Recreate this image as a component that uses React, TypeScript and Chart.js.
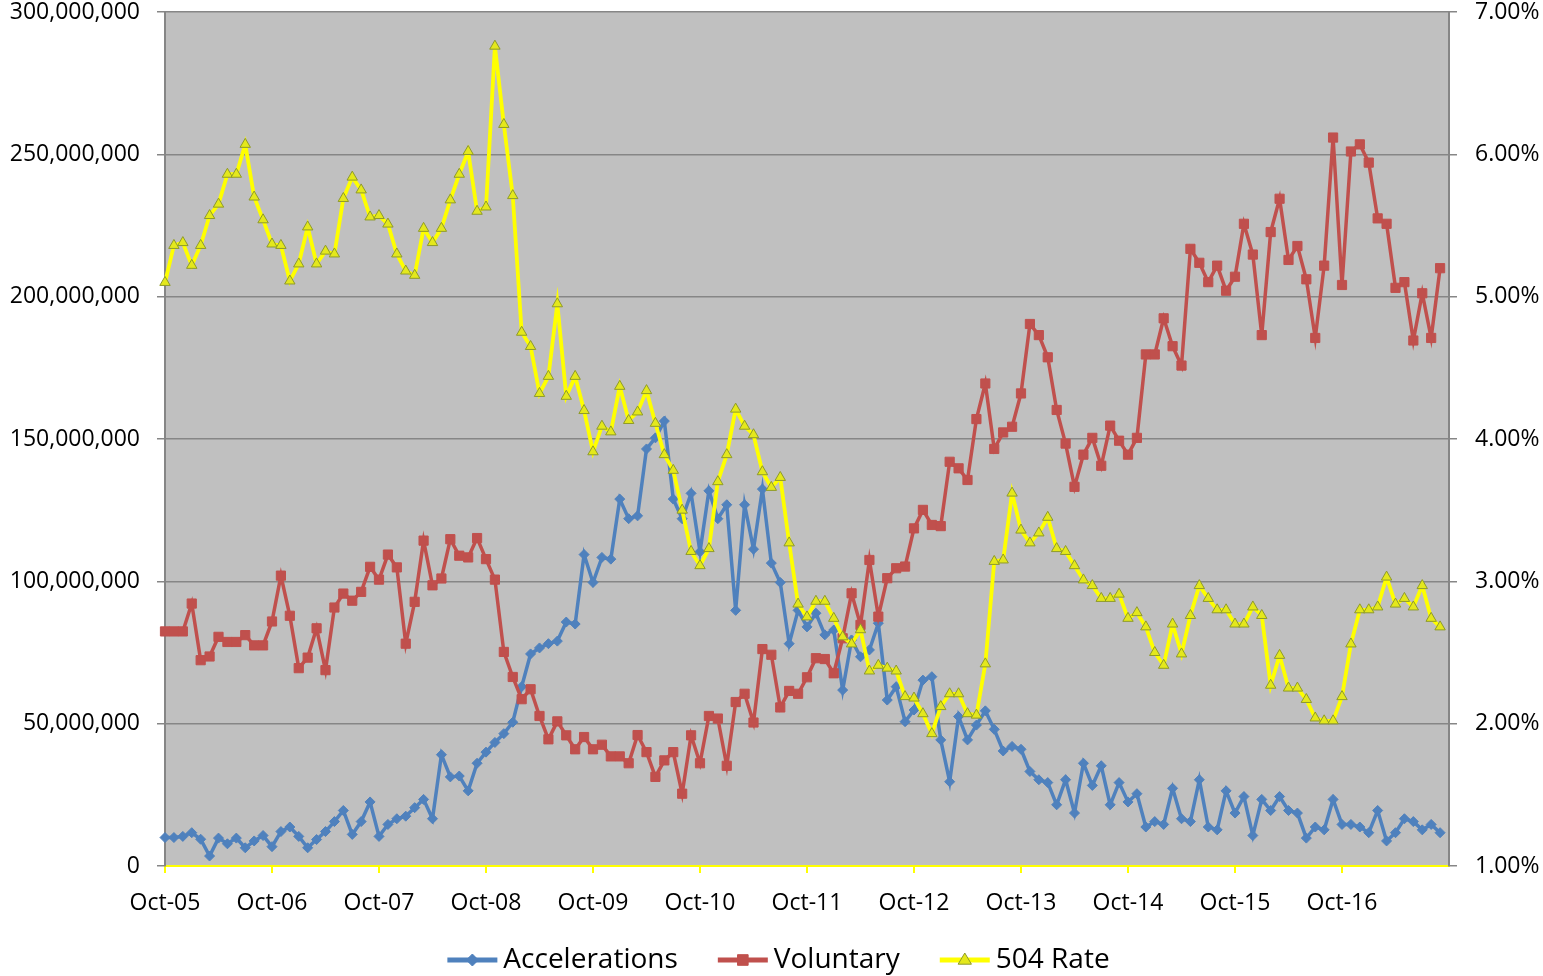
import React, { useEffect, useRef } from 'react';
import { Chart, registerables } from 'chart.js';

Chart.register(...registerables);

const FONT = "'Open Sans', 'Noto Sans', sans-serif";

// Monthly series, Oct-05 .. Sep-17 (144 months)
const accelerationsM = [
  10, 10, 10.4, 11.7, 9.4, 3.5, 9.8, 7.8, 9.8, 6.4, 8.8, 10.7, 6.8, 12.1, 13.7, 10.4, 6.4, 9.3,
  12.1, 15.6, 19.5, 11.1, 15.6, 22.5, 10.4, 14.6, 16.6, 17.5, 20.5, 23.4, 16.6, 39.1, 31.3, 31.6, 26.4, 36.1, 40,
  43.4, 46.5, 50.5, 63, 74.5, 76.6, 78.1, 79, 85.7, 85, 109.4, 99.6, 108.4, 107.8, 128.9, 122, 123, 146.5,
  150.4, 156.3, 128.9, 122, 130.9, 110.4, 131.8, 122, 126.9, 89.8, 126.9, 111.3, 132.4, 106.4, 99.6, 78.1, 89.8, 84,
  88.8, 81.2, 82.9, 61.8, 79.4, 73.5, 75.9, 85.3, 58.3, 63, 50.7,
  54.8, 65.3, 66.5, 44.3, 29.6, 52.5, 44.3, 49.5, 54.5, 48, 40.4, 42, 41,
  33.2, 30.3, 29.3, 21.5, 30.3, 18.6, 36.1, 28.3, 35.2, 21.5, 29.3, 22.5,
  25.4, 13.7, 15.6, 14.6, 27.3, 16.6, 15.6, 30.3, 13.7, 12.7, 26.4, 18.6, 24.4, 10.7, 23.4, 19.5, 24.4, 19.5, 18.6,
  9.8, 13.7, 12.7, 23.4, 14.6, 14.6, 13.7, 11.7, 19.5, 8.8, 11.7, 16.6, 15.6, 12.7, 14.6, 11.7,
];

const voluntaryM = [
  82.4, 82.4, 82.4, 92.2, 72.3, 73.6, 80.5, 78.7, 78.7, 81.1, 77.5, 77.5, 85.9, 102, 87.9, 69.5, 73.2, 83.5,
  68.8, 90.8, 95.7, 93.2, 96.3, 105.1, 100.6, 109.4, 104.9, 78.1, 92.8, 114.3, 98.6, 101, 114.8, 109, 108.4, 115.2, 107.8,
  100.6, 75.2, 66.4, 58.6, 62.1, 52.7, 44.5, 50.8, 45.9, 41, 45.3, 41, 42.6, 38.5, 38.5, 36.1, 46, 40,
  31.3, 37.1, 40, 25.4, 45.9, 36.1, 52.7, 51.8, 35.2, 57.6, 60.5, 50.4, 76.2, 74.2, 55.7, 61.5, 60.5, 66.3,
  73, 72.7, 67.7, 80, 95.8, 84.7, 107.5, 87.6, 101.1, 104.6, 105.2,
  118.6, 125.1, 119.8, 119.4, 142, 139.7, 135.6, 157, 169.5, 146.5, 152.3, 154.3, 166,
  190.4, 186.5, 178.7, 160.2, 148.4, 133.2, 144.5, 150.4, 140.6, 154.7, 149.4, 144.5,
  150.4, 179.7, 179.7, 192.4, 182.6, 175.8, 216.8, 211.9, 205.1, 210.9, 202.1, 207, 225.6, 214.8, 186.5, 222.7, 234.4, 212.9, 217.8,
  206.1, 185.5, 210.9, 255.9, 204.1, 251, 253.5, 247.1, 227.5, 225.6, 203.1, 205.1, 184.6, 201.2, 185.5, 210,
];

const rate504Pct = [
  5.10, 5.36, 5.38, 5.22, 5.36, 5.57, 5.65, 5.86, 5.86, 6.07, 5.70, 5.54, 5.37, 5.36, 5.11, 5.23, 5.49, 5.23,
  5.32, 5.30, 5.69, 5.84, 5.75, 5.56, 5.57, 5.51, 5.30, 5.18, 5.15, 5.48, 5.38, 5.48, 5.68, 5.86, 6.02, 5.60, 5.63,
  6.76, 6.21, 5.71, 4.75, 4.65, 4.32, 4.44, 4.95, 4.30, 4.44, 4.20, 3.91, 4.09, 4.05, 4.37, 4.13, 4.19, 4.34,
  4.11, 3.89, 3.78, 3.50, 3.21, 3.11, 3.23, 3.70, 3.89, 4.21, 4.09, 4.03, 3.77, 3.66, 3.73, 3.27, 2.84, 2.75,
  2.86, 2.86, 2.74, 2.61, 2.56, 2.66, 2.37, 2.41, 2.39, 2.37, 2.19,
  2.18, 2.07, 1.93, 2.12, 2.21, 2.21, 2.07, 2.06, 2.42, 3.14, 3.15, 3.62, 3.36,
  3.27, 3.34, 3.45, 3.23, 3.21, 3.11, 3.01, 2.97, 2.88, 2.88, 2.91, 2.74,
  2.78, 2.68, 2.50, 2.41, 2.70, 2.49, 2.76, 2.97, 2.88, 2.80, 2.80, 2.70, 2.70, 2.82, 2.76, 2.27, 2.48, 2.25, 2.25,
  2.17, 2.04, 2.02, 2.02, 2.19, 2.56, 2.80, 2.80, 2.82, 3.03, 2.84, 2.88, 2.82, 2.97, 2.74, 2.68,
];

const monthNames = ['Jan', 'Feb', 'Mar', 'Apr', 'May', 'Jun', 'Jul', 'Aug', 'Sep', 'Oct', 'Nov', 'Dec'];
// 145 monthly categories Oct-05 .. Oct-17 (last one empty, as in the source axis)
const categories = Array.from({ length: 145 }, (_, i) => {
  const m = 9 + i;
  return `${monthNames[m % 12]}-${String(5 + Math.floor(m / 12)).padStart(2, '0')}`;
});
const yearTickLabels = ['Oct-05', 'Oct-06', 'Oct-07', 'Oct-08', 'Oct-09', 'Oct-10', 'Oct-11', 'Oct-12', 'Oct-13', 'Oct-14', 'Oct-15', 'Oct-16'];

const leftTicks = [0, 50000000, 100000000, 150000000, 200000000, 250000000, 300000000];
const rightTicks = [1, 2, 3, 4, 5, 6, 7];

const BLUE = '#4F81BD';
const RED = '#C0504D';
const YELLOW = '#FFFF00';

const withCommas = (n: number) => String(Math.round(n)).replace(/\B(?=(\d{3})+(?!\d))/g, ',');

const plotBg = {
  id: 'plotBg',
  beforeDraw(chart: any) {
    const { ctx, chartArea } = chart;
    ctx.save();
    ctx.fillStyle = '#ffffff';
    ctx.fillRect(0, 0, chart.width, chart.height);
    ctx.fillStyle = '#C0C0C0';
    ctx.fillRect(chartArea.left, chartArea.top, chartArea.right - chartArea.left, chartArea.bottom - chartArea.top);
    ctx.restore();
  },
};

function drawMarker(ctx: CanvasRenderingContext2D, style: string, x: number, y: number, r: number, fill: string, stroke: string) {
  ctx.beginPath();
  if (style === 'rectRot') {
    ctx.moveTo(x - r, y);
    ctx.lineTo(x, y - r);
    ctx.lineTo(x + r, y);
    ctx.lineTo(x, y + r);
  } else if (style === 'rect') {
    const s = r * Math.SQRT1_2;
    ctx.rect(x - s, y - s, 2 * s, 2 * s);
  } else {
    ctx.moveTo(x, y - r);
    ctx.lineTo(x + r * 0.95, y + r * 0.6);
    ctx.lineTo(x - r * 0.95, y + r * 0.6);
  }
  ctx.closePath();
  ctx.fillStyle = fill;
  ctx.fill();
  ctx.strokeStyle = stroke;
  ctx.lineWidth = 1;
  ctx.stroke();
}

const lineLegend = {
  id: 'lineLegend',
  afterDraw(chart: any) {
    const ctx: CanvasRenderingContext2D = chart.ctx;
    ctx.save();
    ctx.font = `28px ${FONT}`;
    const symW = 50;
    const gapSym = 6;
    const gapItem = 40;
    const items = chart.data.datasets.map((ds: any) => ({ ds, w: ctx.measureText(ds.label).width }));
    const total = items.reduce((s: number, it: any) => s + symW + gapSym + it.w, 0) + gapItem * (items.length - 1);
    let x = chart.width / 2 + 7 - total / 2;
    const y = chart.height - 16;
    for (const it of items) {
      const ds = it.ds;
      ctx.strokeStyle = ds.borderColor;
      ctx.lineWidth = 5;
      ctx.beginPath();
      ctx.moveTo(x, y);
      ctx.lineTo(x + symW, y);
      ctx.stroke();
      drawMarker(ctx, ds.pointStyle, x + symW / 2, y, ds.pointRadius + 1, ds.pointBackgroundColor, ds.pointBorderColor);
      ctx.fillStyle = '#000';
      ctx.textBaseline = 'middle';
      ctx.textAlign = 'left';
      ctx.fillText(ds.label, x + symW + gapSym, y);
      x += symW + gapSym + it.w + gapItem;
    }
    ctx.restore();
  },
};

export default function App() {
  const canvasRef = useRef<HTMLCanvasElement | null>(null);

  useEffect(() => {
    if (!canvasRef.current) return;
    const tickFont = { family: FONT, size: 23, lineHeight: 1 };
    const chart = new Chart(canvasRef.current, {
      type: 'line',
      data: {
        labels: categories,
        datasets: [
          {
            label: 'Accelerations',
            data: accelerationsM.map((v) => v * 1000000),
            yAxisID: 'y',
            borderColor: BLUE,
            backgroundColor: BLUE,
            pointBackgroundColor: BLUE,
            pointBorderColor: BLUE,
            pointStyle: 'rectRot',
            pointRadius: 5,
            pointBorderWidth: 1,
            borderWidth: 3.5,
            tension: 0,
            order: 3,
          },
          {
            label: 'Voluntary',
            data: voluntaryM.map((v) => v * 1000000),
            yAxisID: 'y',
            borderColor: RED,
            backgroundColor: RED,
            pointBackgroundColor: RED,
            pointBorderColor: RED,
            pointStyle: 'rect',
            pointRadius: 6.5,
            pointBorderWidth: 1,
            borderWidth: 3.5,
            tension: 0,
            order: 2,
          },
          {
            label: '504 Rate',
            data: rate504Pct,
            yAxisID: 'y1',
            borderColor: YELLOW,
            backgroundColor: YELLOW,
            pointBackgroundColor: '#E4E81C',
            pointBorderColor: '#8E9A2A',
            pointStyle: 'triangle',
            pointRadius: 6,
            pointBorderWidth: 1,
            borderWidth: 3.8,
            tension: 0,
            order: 1,
          },
        ] as any,
      },
      options: {
        animation: false,
        responsive: false,
        devicePixelRatio: 1,
        layout: { padding: { top: 12, left: 0, right: 0, bottom: 60 } },
        plugins: {
          legend: { display: false },
          tooltip: { enabled: false },
        },
        scales: {
          x: {
            type: 'category',
            offset: false,
            border: { color: YELLOW, width: 2 },
            grid: { drawOnChartArea: false, drawTicks: true, tickLength: 7, color: YELLOW, lineWidth: 2 },
            afterBuildTicks: (s: any) => {
              s.ticks = s.ticks.filter((t: any) => t.value % 12 === 0 && t.value / 12 < yearTickLabels.length);
            },
            ticks: {
              autoSkip: false,
              maxRotation: 0,
              minRotation: 0,
              padding: 19,
              color: '#000',
              font: tickFont,
              callback: (v: any) => yearTickLabels[Math.round(Number(v) / 12)],
            },
            afterFit: (s: any) => {
              s.height = 50;
              s.paddingLeft = 0;
              s.paddingRight = 0;
            },
          },
          y: {
            position: 'left',
            min: 0,
            max: 300000000,
            afterBuildTicks: (s: any) => {
              s.ticks = leftTicks.map((v) => ({ value: v }));
            },
            ticks: {
              padding: 17,
              color: '#000',
              font: tickFont,
              callback: (v: any) => withCommas(Number(v)),
            },
            grid: { color: '#868686', lineWidth: 1.5, tickLength: 8 },
            border: { color: '#868686', width: 2 },
            afterFit: (s: any) => {
              s.width = 165;
              s.paddingTop = 0;
              s.paddingBottom = 0;
            },
          },
          y1: {
            position: 'right',
            min: 1,
            max: 7,
            afterBuildTicks: (s: any) => {
              s.ticks = rightTicks.map((v) => ({ value: v }));
            },
            ticks: {
              padding: 18,
              color: '#000',
              font: tickFont,
              callback: (v: any) => `${Number(v).toFixed(2)}%`,
            },
            grid: { drawOnChartArea: false, tickLength: 8, color: '#868686', lineWidth: 1.5 },
            border: { color: '#868686', width: 2 },
            afterFit: (s: any) => {
              s.width = 94;
              s.paddingTop = 0;
              s.paddingBottom = 0;
            },
          },
        },
      } as any,
      plugins: [plotBg, lineLegend],
    });
    return () => chart.destroy();
  }, []);

  return (
    <div style={{ position: 'absolute', left: 0, top: 0, width: 1543, height: 976, background: '#fff' }}>
      <canvas ref={canvasRef} width={1543} height={976} style={{ display: 'block', width: 1543, height: 976 }} />
    </div>
  );
}
